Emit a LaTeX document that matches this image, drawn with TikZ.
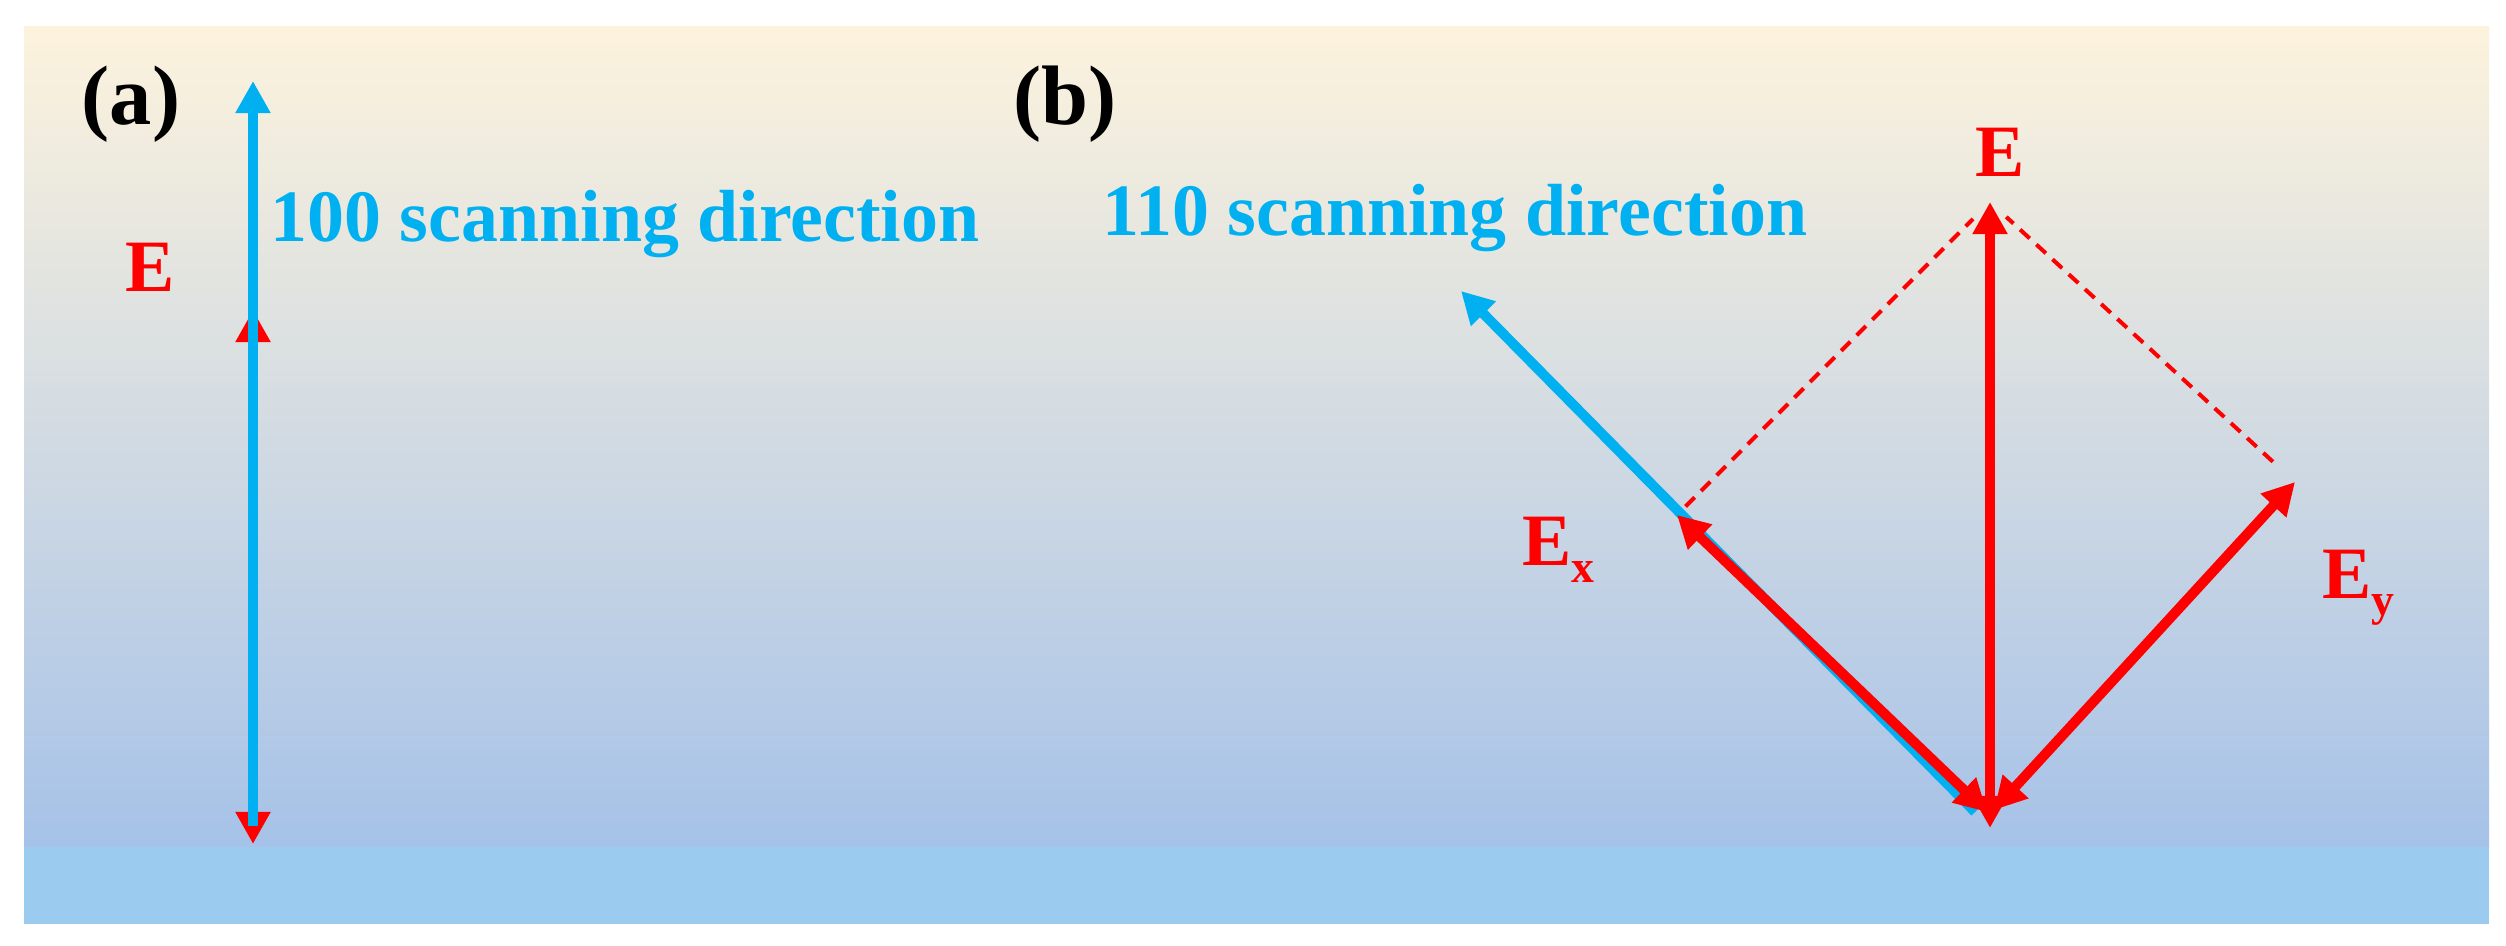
\documentclass[tikz,border=0pt]{standalone}
\usepackage{fontspec}
\setmainfont{Liberation Serif}
\usetikzlibrary{arrows.meta}
\definecolor{efield}{RGB}{255,0,0}
\definecolor{scan}{RGB}{0,176,240}
\definecolor{bgtop}{RGB}{253,243,221}
\definecolor{bgmid}{RGB}{202,213,228}
\definecolor{bgbot}{RGB}{166,194,232}
\definecolor{substrate}{RGB}{155,203,239}
\tikzset{
  tip/.tip={Triangle[length=0.32cm,width=0.33cm]},
  scanarrow/.style={scan, line width=0.1cm, -tip},
  fieldarrow/.style={efield, line width=0.1cm, tip-tip},
  helper/.style={efield, line width=0.04cm, dash pattern=on 0.13cm off 0.09cm},
  lbl/.style={inner sep=0pt, anchor=base west, font=\fontsize{21}{25}\selectfont\bfseries},
  tag/.style={inner sep=0pt, anchor=base west, font=\fontsize{24}{28}\selectfont\bfseries},
}
\newcommand{\subx}[1]{{\fontsize{13}{13}\selectfont\raisebox{-5pt}{#1}}}
\begin{document}
\begin{tikzpicture}[x=0.01cm, y=-0.01cm]
  \useasboundingbox[fill=white] (0,0) rectangle (2506,946);
  % background
  \shade[top color=bgtop, middle color=bgmid, bottom color=bgbot] (24,27) rectangle (2489,847);
  \fill[substrate] (24,847) rectangle (2489,924);

  % (a)
  \node[tag] (taga) at (81,125) {(a)};
  \coordinate (a-etop) at (253,310);
  \coordinate (a-ebot) at (253,844);
  \coordinate (a-stop) at (253,81);
  \coordinate (a-sbot) at (253,826);
  \draw[fieldarrow] (a-ebot) -- (a-etop);
  \draw[scanarrow] (a-sbot) -- (a-stop);
  \node[lbl, text=efield] (ea) at (125,292) {E};
  \node[lbl, text=scan] (scana) at (270,242) {100 scanning direction};

  % (b)
  \node[tag] (tagb) at (1013,125) {(b)};
  \node[lbl, text=scan] (scanb) at (1102,236) {110 scanning direction};
  \coordinate (o) at (1990,828);
  \coordinate (ox) at (1987,812);
  \coordinate (oy) at (1994,810);
  \coordinate (os) at (1975,812);
  \coordinate (e) at (1990,202);
  \coordinate (ex) at (1677,515);
  \coordinate (ey) at (2295,482);
  \coordinate (s) at (1461,291);
  \draw[scanarrow] (os) -- (s);
  \draw[helper, shorten <=0.12cm, shorten >=0.24cm] (ex) -- (e);
  \draw[helper, shorten <=0.3cm, shorten >=0.22cm] (ey) -- (e);
  \draw[fieldarrow] (ox) -- (ex);
  \draw[fieldarrow] (oy) -- (ey);
  \draw[fieldarrow] (o) -- (e);
  \node[lbl, text=efield] (eb) at (1975,177) {E};
  \node[lbl, text=efield] (exl) at (1522,565) {E\subx{x}};
  \node[lbl, text=efield] (eyl) at (2322,598) {E\subx{y}};
\end{tikzpicture}
\end{document}
